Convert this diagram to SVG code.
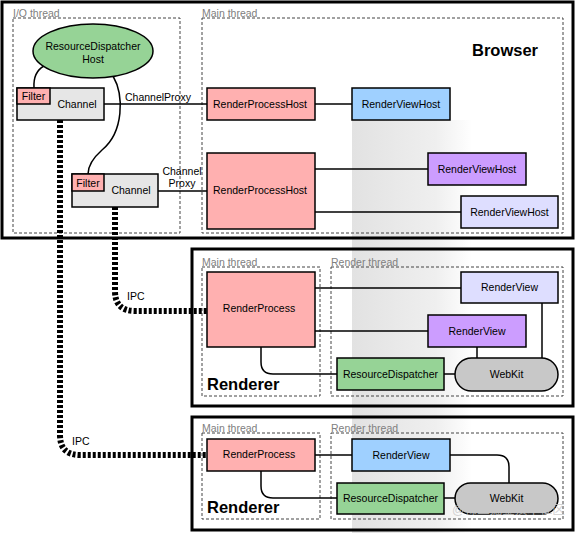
<svg xmlns="http://www.w3.org/2000/svg" width="576" height="533" viewBox="0 0 576 533">
<defs>
<linearGradient id="band" x1="0" y1="0" x2="1" y2="0">
<stop offset="0" stop-color="#e2e2e2"/>
<stop offset="0.7" stop-color="#efefef"/>
<stop offset="1" stop-color="#ffffff"/>
</linearGradient>
<style>
text{font-family:"Liberation Sans",Arial,sans-serif;font-size:10.5px;fill:#000}
.c{text-anchor:middle}
.thr{fill:#808080;font-size:10.5px}
.big{font-size:16.5px;font-weight:bold}
.outer{fill:none;stroke:#000;stroke-width:3}
.dash{fill:none;stroke:#444;stroke-width:1;stroke-dasharray:3 2}
.box{stroke:#000;stroke-width:1.5}
.pink{fill:#ffb0b0}
.blue{fill:#9fd0ff}
.purple{fill:#cc9dff}
.lav{fill:#dedeff}
.green{fill:#96d396}
.gray{fill:#c8c8c8}
.chan{fill:#e6e6e6}
.line{fill:none;stroke:#000;stroke-width:1.5}
.ipc{fill:none;stroke:#000;stroke-width:6;stroke-dasharray:3 2}
</style>
</defs>
<rect x="352" y="120" width="120" height="413" fill="url(#band)"/>

<g id="browser">
<rect class="outer" x="2" y="2" width="571" height="236"/>
<rect class="dash" x="13" y="18" width="167" height="215"/>
<text class="thr" x="13" y="17">I/O thread</text>
<rect class="dash" x="202" y="18" width="361" height="215"/>
<text class="thr" x="202" y="17">Main thread</text>
<text class="big" x="472" y="56">Browser</text>
</g>
<g id="renderer1">
<rect class="outer" x="192" y="249" width="381" height="157"/>
<rect class="dash" x="202" y="267" width="118" height="129"/>
<text class="thr" x="202" y="266">Main thread</text>
<rect class="dash" x="331" y="267" width="232" height="129"/>
<text class="thr" x="331" y="266">Render thread</text>
<text class="big" x="207" y="390">Renderer</text>
</g>
<g id="renderer2">
<rect class="outer" x="192" y="417" width="381" height="113"/>
<rect class="dash" x="202" y="433" width="118" height="86"/>
<text class="thr" x="202" y="432">Main thread</text>
<rect class="dash" x="331" y="433" width="232" height="86"/>
<text class="thr" x="331" y="432">Render thread</text>
<text class="big" x="207" y="513">Renderer</text>
</g>

<g id="connectors">
<path class="line" d="M44,66 Q33,72 34,88"/>
<path class="line" d="M113,76 C124,95 124,132 102,150 C93,158 88,165 88,174"/>
<path class="line" d="M104,104 H207"/>
<text x="125" y="101">ChannelProxy</text>
<path class="line" d="M158,191 H207"/>
<text class="c" x="182" y="175">Channel</text>
<text class="c" x="182" y="187">Proxy</text>
<path class="line" d="M315,104 H352"/>
<path class="line" d="M315,169 H428"/>
<path class="line" d="M315,212 H461"/>
<path class="line" d="M315,288 H461"/>
<path class="line" d="M315,331 H428"/>
<path class="line" d="M261,347 V362 Q261,374 273,374 H337"/>
<path class="line" d="M444,374 H455"/>
<path class="line" d="M477,347 V358"/>
<path class="line" d="M542,303 V358"/>
<path class="line" d="M315,455 H352"/>
<path class="line" d="M261,471 V486 Q261,498 273,498 H337"/>
<path class="line" d="M444,498 H455"/>
<path class="line" d="M450,455 H497 Q509,455 509,467 V483"/>
<path class="ipc" d="M60,120 V435 Q60,455 80,455 H207"/>
<path class="ipc" d="M115,207 V291 Q115,311 135,311 H207"/>
<text x="127" y="300">IPC</text>
<text x="72" y="445">IPC</text>
</g>

<g id="rdh">
<ellipse class="box green" cx="93" cy="51" rx="60" ry="27"/>
<text class="c" x="93" y="50">ResourceDispatcher</text>
<text class="c" x="93" y="63">Host</text>
</g>
<g id="channel1">
<rect class="box chan" x="17" y="88" width="87" height="32"/>
<rect class="box pink" x="17" y="88" width="33" height="16"/>
<text class="c" x="33.5" y="100">Filter</text>
<text class="c" x="77" y="108">Channel</text>
</g>
<g id="channel2">
<rect class="box chan" x="72" y="174" width="86" height="33"/>
<rect class="box pink" x="72" y="174" width="32" height="17"/>
<text class="c" x="88" y="187">Filter</text>
<text class="c" x="131" y="194">Channel</text>
</g>
<g id="rph1">
<rect class="box pink" x="207" y="88" width="108" height="32"/>
<text class="c" x="260" y="108">RenderProcessHost</text>
</g>
<g id="rph2">
<rect class="box pink" x="207" y="153" width="108" height="76"/>
<text class="c" x="260" y="194">RenderProcessHost</text>
</g>
<g id="rvh1">
<rect class="box blue" x="352" y="88" width="98" height="32"/>
<text class="c" x="401" y="108">RenderViewHost</text>
</g>
<g id="rvh2">
<rect class="box purple" x="428" y="153" width="98" height="32"/>
<text class="c" x="477" y="173">RenderViewHost</text>
</g>
<g id="rvh3">
<rect class="box lav" x="461" y="196" width="97" height="32"/>
<text class="c" x="509.5" y="216">RenderViewHost</text>
</g>

<g id="rp1">
<rect class="box pink" x="207" y="272" width="108" height="75"/>
<text class="c" x="259" y="312">RenderProcess</text>
</g>
<g id="rv1a">
<rect class="box lav" x="461" y="272" width="97" height="31"/>
<text class="c" x="509.5" y="291">RenderView</text>
</g>
<g id="rv1b">
<rect class="box purple" x="428" y="315" width="98" height="32"/>
<text class="c" x="477" y="335">RenderView</text>
</g>
<g id="rd1">
<rect class="box green" x="337" y="358" width="107" height="32"/>
<text class="c" x="390.5" y="378">ResourceDispatcher</text>
</g>
<g id="wk1">
<rect class="box gray" x="455" y="358" width="103" height="33" rx="16.5"/>
<text class="c" x="506.5" y="378">WebKit</text>
</g>

<g id="rp2">
<rect class="box pink" x="207" y="439" width="108" height="32"/>
<text class="c" x="259" y="458">RenderProcess</text>
</g>
<g id="rv2">
<rect class="box blue" x="352" y="439" width="98" height="32"/>
<text class="c" x="401" y="459">RenderView</text>
</g>
<g id="rd2">
<rect class="box green" x="337" y="483" width="107" height="31"/>
<text class="c" x="390.5" y="502">ResourceDispatcher</text>
</g>
<g id="wk2">
<rect class="box gray" x="455" y="483" width="103" height="31" rx="15.5"/>
<text class="c" x="506.5" y="502">WebKit</text>
</g>
<text x="452" y="514" style="font-family:'Liberation Sans','Noto Sans CJK SC',sans-serif;font-size:12.5px;fill:#c8c8c8;fill-opacity:0.8">@稀土掘金技术社区</text>
</svg>
